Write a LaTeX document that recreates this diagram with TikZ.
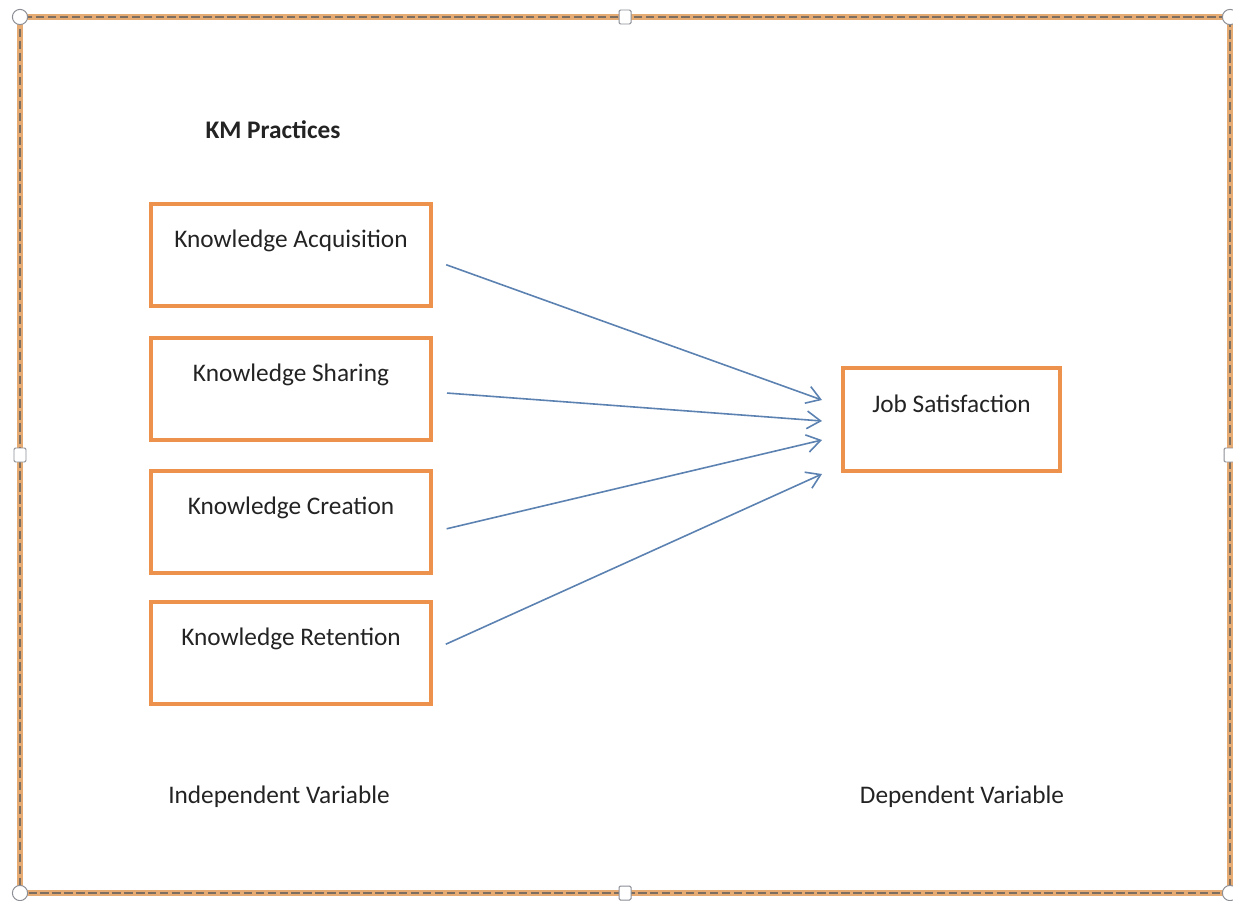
\documentclass[tikz,border=0pt]{standalone}
\usepackage{fontspec}
\setmainfont{Carlito}
\usetikzlibrary{arrows.meta}

\definecolor{boxorange}{RGB}{236,146,76}
\definecolor{arrowblue}{RGB}{92,130,178}
\definecolor{frameorange}{RGB}{230,170,115}
\definecolor{framegrey}{RGB}{125,110,98}
\definecolor{handlegrey}{RGB}{140,142,150}
\definecolor{textgrey}{RGB}{35,35,35}

\begin{document}
\begin{tikzpicture}[x=0.025cm,y=-0.025cm,
  font=\fontsize{18}{22}\selectfont,text=textgrey,
  var node/.style={rectangle,draw=boxorange,line width=0.1cm,inner sep=0pt,
    minimum width=7cm,minimum height=2.55cm,text height=1.075cm,text depth=1.475cm},
  link/.style={draw=arrowblue,line width=0.04cm,shorten <=0.35cm,
    -{Straight Barb[length=3.4mm,width=4.4mm]}},
  handle/.style={draw=handlegrey,fill=white,line width=0.7pt}]

  \useasboundingbox (0,0) rectangle (1233,900);

  % selection frame
  \draw[frameorange,line width=0.13cm] (20,17) rectangle (1230,893);
  \draw[framegrey,line width=0.035cm,dash pattern=on 6pt off 2.5pt] (20,17) rectangle (1230,893);
  \foreach \hx/\hy in {20/17,1230/17,20/893,1230/893}
    \draw[handle] (\hx,\hy) circle (0.19cm);
  \foreach \hx/\hy in {625/17,20/455,1230/455,625/893}
    \draw[handle,rounded corners=1pt] (\hx-6,\hy-7) rectangle (\hx+6,\hy+7);

  \node[font=\fontsize{18}{22}\selectfont\bfseries] (km) at (273,130) {KM Practices};

  \node[var node] (acq) at (291,255) {Knowledge Acquisition};
  \node[var node] (shr) at (291,389) {Knowledge Sharing};
  \node[var node] (cre) at (291,522) {Knowledge Creation};
  \node[var node] (ret) at (291,653) {Knowledge Retention};
  \node[var node,minimum width=5.425cm,minimum height=2.575cm,
    text height=1.1cm,text depth=1.475cm] (job) at (951.5,419.5) {Job Satisfaction};

  \node (indep) at (279,797) {Independent Variable};
  \node (dep) at (962,797) {Dependent Variable};

  % arrow ends in front of the dependent variable
  \coordinate (in1) at (822,400);
  \coordinate (in2) at (822,421);
  \coordinate (in3) at (822,440);
  \coordinate (in4) at (822,474);

  \path
    ([yshift=-0.125cm]acq.east) edge[link] (in1)
    ([yshift=-0.075cm]shr.east) edge[link] (in2)
    ([yshift=-0.25cm]cre.east) edge[link] (in3)
    ([yshift=0.075cm]ret.east) edge[link] (in4);
\end{tikzpicture}
\end{document}
